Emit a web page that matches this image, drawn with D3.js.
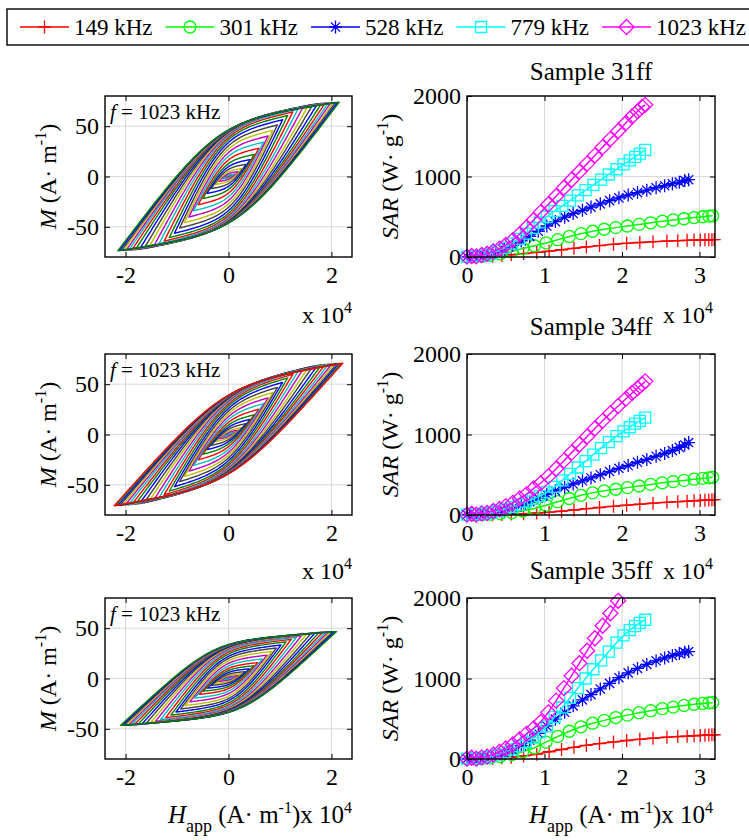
<!DOCTYPE html>
<html><head><meta charset="utf-8">
<script src="https://cdn.jsdelivr.net/npm/d3@7/dist/d3.min.js"></script>
<style>
body{margin:0;background:#fff;}
svg{display:block;font-family:"Liberation Serif","Times New Roman",serif;}
</style></head><body>
<svg id="chart" width="749" height="840" font-family="Liberation Serif, Times New Roman, serif"></svg>
<script>
// ---------------- DATA ----------------
const freqLabels = ['149 kHz','301 kHz','528 kHz','779 kHz','1023 kHz'];
const freqColors = ['#ff0000','#00ff00','#0000ff','#00ffff','#ff00ff'];
const freqMarkers = ['plus','circle','star','square','diamond'];
const sampleNames = ['Sample 31ff','Sample 34ff','Sample 35ff'];

// applied field amplitude (x 10^4 A/m) for each frequency
const H_149  = [0,0.08,0.2,0.33,0.45,0.57,0.73,0.9,1.06,1.22,1.38,1.54,1.71,1.89,2.06,2.23,2.4,2.58,2.72,2.84,2.93,3.01,3.07,3.12,3.16,3.19];
const H_301  = [0,0.1,0.2,0.3,0.43,0.58,0.72,0.87,1.02,1.17,1.32,1.47,1.62,1.77,1.92,2.07,2.22,2.37,2.52,2.66,2.8,2.93,3.04,3.12,3.17];
const H_528  = [0,0.08,0.17,0.27,0.37,0.48,0.59,0.7,0.81,0.92,1.03,1.14,1.26,1.37,1.49,1.6,1.72,1.84,1.96,2.08,2.2,2.32,2.44,2.55,2.65,2.74,2.81,2.86];
const H_779  = [0,0.07,0.15,0.23,0.31,0.4,0.49,0.58,0.67,0.76,0.85,0.94,1.03,1.13,1.23,1.33,1.43,1.53,1.63,1.73,1.83,1.93,2.02,2.1,2.17,2.23,2.3];
const H_1023 = [0,0.06,0.12,0.19,0.26,0.34,0.42,0.5,0.59,0.68,0.77,0.86,0.95,1.05,1.15,1.25,1.35,1.45,1.55,1.65,1.75,1.85,1.95,2.05,2.13,2.2,2.26,2.3];

// SAR (W/g)
const S31_149  = [1,2,5,10,18,28,42,57,72,90,108,125,142,158,170,180,190,198,203,207,210,212,213,214,215,216];
const S31_301  = [2,5,10,20,40,70,105,140,175,215,255,290,320,345,365,385,405,425,445,460,475,490,500,508,512];
const S31_528  = [3,8,15,30,55,95,145,200,255,320,385,440,495,540,580,620,660,700,735,770,800,830,860,885,910,930,950,960];
const S31_779  = [5,10,15,25,45,75,115,165,225,290,360,430,500,570,635,700,765,830,895,960,1025,1090,1150,1200,1245,1285,1330];
const S31_1023 = [5,12,8,25,40,70,105,150,210,285,370,460,555,655,755,860,960,1060,1160,1260,1365,1465,1565,1665,1745,1810,1865,1890];

const S34_149  = [1,1,2,4,7,11,17,25,35,48,62,78,93,108,122,135,147,158,166,172,177,181,184,186,188,190];
const S34_301  = [2,3,5,10,18,30,50,80,120,165,205,245,275,300,320,340,360,380,400,415,430,445,455,462,468];
const S34_528  = [3,6,10,20,35,60,90,125,165,210,255,300,345,385,425,460,500,540,580,615,655,690,730,765,800,840,870,900];
const S34_779  = [5,10,12,20,30,50,75,100,130,165,200,235,280,350,430,510,590,670,750,830,905,980,1040,1090,1135,1170,1210];
const S34_1023 = [5,15,5,20,25,50,75,110,150,205,260,330,395,480,575,675,775,875,975,1075,1170,1265,1355,1445,1515,1575,1625,1660];

const S35_149  = [1,2,4,8,14,22,38,60,90,118,145,170,192,212,230,245,258,270,278,284,289,293,296,298,300,301];
const S35_301  = [2,4,8,15,30,55,90,140,210,280,345,400,445,480,515,545,575,600,625,645,665,680,690,697,700];
const S35_528  = [3,6,10,20,40,70,110,165,235,320,410,495,580,660,735,800,870,940,1010,1070,1125,1175,1220,1255,1285,1310,1325,1335];
const S35_779  = [5,10,10,20,35,55,85,120,160,210,265,330,405,520,640,760,880,1000,1115,1225,1335,1445,1535,1600,1650,1690,1730];
const S35_1023 = [5,15,5,20,30,55,90,130,180,245,315,380,460,580,725,880,1035,1190,1345,1500,1655,1810,1965,2120,2240,2350,2440,2500];

// hysteresis loops at f = 1023 kHz: field amplitude (x 10^4 A/m) and tip magnetization
const loopH31 = [0.06,0.12,0.19,0.26,0.34,0.42,0.5,0.59,0.68,0.77,0.86,0.95,1.05,1.15,1.25,1.35,1.45,1.55,1.64,1.73,1.81,1.88,1.94,1.99,2.04,2.08,2.12,2.15];
const loopM31 = [0.8,2.3,4.8,7.9,12.1,16.8,21.9,28.0,34.1,40.2,45.9,51.2,56.4,60.7,64.2,66.9,69.0,70.5,71.6,72.3,72.8,73.1,73.3,73.4,73.5,73.6,73.7,73.8];
const loopH34 = [0.06,0.12,0.19,0.26,0.34,0.42,0.5,0.59,0.68,0.77,0.86,0.95,1.05,1.15,1.25,1.35,1.45,1.55,1.64,1.73,1.81,1.88,1.95,2.01,2.06,2.11,2.15,2.19,2.22];
const loopM34 = [0.7,2.1,4.3,7.0,10.8,15.0,19.6,25.1,30.7,36.4,41.7,46.8,51.8,56.2,59.8,62.7,65.0,66.7,67.9,68.7,69.3,69.7,70.1,70.2,70.4,70.5,70.6,70.7,70.8];
const loopH35 = [0.06,0.12,0.19,0.26,0.33,0.41,0.49,0.57,0.66,0.75,0.84,0.93,1.02,1.12,1.22,1.32,1.42,1.51,1.6,1.68,1.76,1.83,1.89,1.94,1.99,2.03,2.07,2.1];
const loopM35 = [0.4,1.4,2.8,4.7,6.8,9.6,12.6,15.8,19.5,23.2,26.9,30.3,33.3,36.4,38.9,40.9,42.6,43.7,44.6,45.2,45.7,46.0,46.2,46.3,46.5,46.5,46.6,46.6];

const xTicksLeft = [-2,0,2], yTicksLeft = [-50,0,50];
const xTicksRight = [0,1,2,3], yTicksRight = [0,1000,2000];

// ---------------- BUILD ----------------
const Hs = [H_149,H_301,H_528,H_779,H_1023];
const samples = [
  {name:sampleNames[0], sar:[S31_149,S31_301,S31_528,S31_779,S31_1023], lh:loopH31, lm:loopM31, shape:{rho:0.22,kOut:0.56,kIn:0.6,tOut:0.1,tIn:0.14}, off:2},
  {name:sampleNames[1], sar:[S34_149,S34_301,S34_528,S34_779,S34_1023], lh:loopH34, lm:loopM34, shape:{rho:0.28,kOut:0.53,kIn:0.55,tOut:0.1,tIn:0.16}, off:2},
  {name:sampleNames[2], sar:[S35_149,S35_301,S35_528,S35_779,S35_1023], lh:loopH35, lm:loopM35, shape:{rho:0.18,kOut:0.58,kIn:0.6,tOut:0.08,tIn:0.14}, off:2}
];
const loopColors = ['#0000ff','#008000','#ff0000','#00bfbf','#bf00bf','#bfbf00','#404040'];

const rows = [
  {top:96, bottom:257, titleY:80},
  {top:354, bottom:515, titleY:335},
  {top:598, bottom:759, titleY:579}
];
const L = {x0:105, x1:352}, R = {x0:467, x1:715};
const FS = 24;

const svg = d3.select('#chart');
svg.append('rect').attr('width',749).attr('height',840).attr('fill','#fff');

function markerPath(type){
  switch(type){
    case 'plus': return 'M-6.5,0H6.5M0,-6.5V6.5';
    case 'circle': return 'M6,0A6,6 0 1,1 -6,0A6,6 0 1,1 6,0Z';
    case 'star': return 'M-6.5,0H6.5M0,-6.5V6.5M-4.6,-4.6L4.6,4.6M-4.6,4.6L4.6,-4.6';
    case 'square': return 'M-5.5,-5.5H5.5V5.5H-5.5Z';
    case 'diamond': return 'M0,-7.5L7.5,0L0,7.5L-7.5,0Z';
  }
}

function rich(sel, parts){
  parts.forEach(p=>{
    const t = sel.append('tspan').text(p.t);
    if(p.it) t.attr('font-style','italic');
    if(p.dy) t.attr('dy',p.dy);
    if(p.fs) t.attr('font-size',p.fs);
  });
  return sel;
}

function drawFrame(g, x, y, xt, yt, x0, x1, y0, y1){
  g.append('g').selectAll('line').data(xt).join('line')
    .attr('x1',d=>x(d)).attr('x2',d=>x(d)).attr('y1',y0).attr('y2',y1)
    .attr('stroke','#d8d8d8').attr('stroke-width',1);
  g.append('g').selectAll('line').data(yt).join('line')
    .attr('y1',d=>y(d)).attr('y2',d=>y(d)).attr('x1',x0).attr('x2',x1)
    .attr('stroke','#d8d8d8').attr('stroke-width',1);
}
function drawAxes(g, x, y, xt, yt, x0, x1, y0, y1){
  const ax = g.append('g').attr('transform',`translate(0,${y1})`)
    .call(d3.axisBottom(x).tickValues(xt).tickSizeInner(-5).tickSizeOuter(0).tickPadding(9).tickFormat(d=>String(d)));
  const ax2 = g.append('g').attr('transform',`translate(0,${y0})`)
    .call(d3.axisTop(x).tickValues(xt).tickSizeInner(-5).tickSizeOuter(0).tickFormat(''));
  const ay = g.append('g').attr('transform',`translate(${x0},0)`)
    .call(d3.axisLeft(y).tickValues(yt).tickSizeInner(-5).tickSizeOuter(0).tickPadding(6).tickFormat(d=>String(d)));
  const ay2 = g.append('g').attr('transform',`translate(${x1},0)`)
    .call(d3.axisRight(y).tickValues(yt).tickSizeInner(-5).tickSizeOuter(0).tickFormat(''));
  [ax,ax2,ay,ay2].forEach(a=>{
    a.attr('font-family','Liberation Serif, Times New Roman, serif');
    a.select('.domain').remove();
    a.selectAll('line').attr('stroke','#000').attr('stroke-width',1);
    a.selectAll('text').attr('font-size',FS).attr('fill','#000');
  });
  g.append('rect').attr('x',x0).attr('y',y0).attr('width',x1-x0).attr('height',y1-y0)
    .attr('fill','none').attr('stroke','#000').attr('stroke-width',1.4);
}

const sp = v => v > 30 ? v : Math.log1p(Math.exp(v));
function makeP(rho, knee, tau){
  const Rf = s => tau*sp((s-knee)/tau) - tau*sp(-knee/tau);
  const R1 = Rf(1);
  return s => rho*s + (1-rho)*Rf(s)/R1;
}
function loopPoints(Ha, Mt, Pf){
  const n = 80, pts = [];
  for(let i=0;i<=n;i++){ const s=i/n; pts.push([Ha*(1-2*s), Mt-2*Mt*Pf(s)]); }
  for(let i=1;i<=n;i++){ const s=i/n; pts.push([Ha*(2*s-1), -(Mt-2*Mt*Pf(s))]); }
  return pts;
}

samples.forEach((smp, ri)=>{
  const row = rows[ri];
  // ---------- left: loops ----------
  const xL = d3.scaleLinear().domain([-2.4,2.4]).range([L.x0,L.x1]);
  const yL = d3.scaleLinear().domain([-80,80]).range([row.bottom,row.top]);
  const gl = svg.append('g');
  drawFrame(gl, xL, yL, xTicksLeft, yTicksLeft, L.x0, L.x1, row.top, row.bottom);
  const clipL = 'clipL'+ri;
  svg.append('clipPath').attr('id',clipL).append('rect')
    .attr('x',L.x0).attr('y',row.top).attr('width',L.x1-L.x0).attr('height',row.bottom-row.top);
  const line = d3.line().x(d=>xL(d[0])).y(d=>yL(d[1]));
  const gLoops = gl.append('g').attr('clip-path',`url(#${clipL})`);
  const Hmax = d3.max(smp.lh), sh = smp.shape;
  smp.lh.forEach((Ha,i)=>{
    const a = Ha/Hmax;
    const Pf = makeP(sh.rho, sh.kIn + (sh.kOut-sh.kIn)*a, sh.tIn + (sh.tOut-sh.tIn)*a);
    gLoops.append('path').attr('d', line(loopPoints(Ha, smp.lm[i], Pf))+'Z')
      .attr('fill','none').attr('stroke', loopColors[(i+smp.off)%7]).attr('stroke-width',1.4)
      .attr('stroke-linejoin','round');
  });
  drawAxes(gl, xL, yL, xTicksLeft, yTicksLeft, L.x0, L.x1, row.top, row.bottom);
  rich(gl.append('text').attr('x',L.x0+5).attr('y',row.top+23).attr('font-size',21),
    [{t:'f',it:true},{t:' = 1023 kHz'}]);
  rich(gl.append('text').attr('transform',`translate(56,${(row.top+row.bottom)/2}) rotate(-90)`)
    .attr('text-anchor','middle').attr('font-size',FS),
    [{t:'M',it:true},{t:' (A· m'},{t:'-1',dy:-10,fs:16},{t:')',dy:10}]);

  // ---------- right: SAR ----------
  const xR = d3.scaleLinear().domain([0,3.2]).range([R.x0,R.x1]);
  const yR = d3.scaleLinear().domain([0,2000]).range([row.bottom,row.top]);
  const gr = svg.append('g');
  drawFrame(gr, xR, yR, xTicksRight, yTicksRight, R.x0, R.x1, row.top, row.bottom);
  const clipR = 'clipR'+ri;
  svg.append('clipPath').attr('id',clipR).append('rect')
    .attr('x',R.x0).attr('y',row.top).attr('width',R.x1-R.x0).attr('height',row.bottom-row.top);
  const lineR = d3.line().x(d=>xR(d[0])).y(d=>yR(d[1]));
  smp.sar.forEach((vals, k)=>{
    const pts = Hs[k].map((h,j)=>[h, vals[j]]);
    const gs = gr.append('g');
    gs.append('path').attr('d', lineR(pts)).attr('clip-path',`url(#${clipR})`)
      .attr('fill','none').attr('stroke',freqColors[k]).attr('stroke-width',1.5);
    gs.selectAll('path.m').data(pts.filter(p=>p[0]<=3.2 && p[1]<=2000)).join('path')
      .attr('class','m').attr('transform',p=>`translate(${xR(p[0])},${yR(p[1])})`)
      .attr('d', markerPath(freqMarkers[k])).attr('fill','none')
      .attr('stroke',freqColors[k]).attr('stroke-width',1.3);
  });
  drawAxes(gr, xR, yR, xTicksRight, yTicksRight, R.x0, R.x1, row.top, row.bottom);
  rich(gr.append('text').attr('transform',`translate(398,${(row.top+row.bottom)/2}) rotate(-90)`)
    .attr('text-anchor','middle').attr('font-size',FS),
    [{t:'SAR',it:true},{t:' (W· g'},{t:'-1',dy:-10,fs:16},{t:')',dy:10}]);
  svg.append('text').attr('x',591).attr('y',row.titleY).attr('text-anchor','middle')
    .attr('font-size',25).text(smp.name);

  if(ri < 2){
    const ey = row.bottom + 66 - ri*2;
    [L.x1, R.x1-2].forEach(xe=>{
      rich(svg.append('text').attr('x',xe).attr('y',ey).attr('text-anchor','end').attr('font-size',FS),
        [{t:'x 10'},{t:'4',dy:-10,fs:16}]);
    });
  } else {
    [L.x1, R.x1-2].forEach(xe=>{
      rich(svg.append('text').attr('x',xe).attr('y',823).attr('text-anchor','end').attr('font-size',FS+1),
        [{t:'H',it:true},{t:'app',dy:9,fs:18},{t:' (A· m',dy:-9},{t:'-1',dy:-10,fs:16},{t:')x 10',dy:10},{t:'4',dy:-10,fs:16}]);
    });
  }
});

// ---------------- LEGEND ----------------
const lg = svg.append('g');
lg.append('rect').attr('x',7).attr('y',9).attr('width',760).attr('height',36)
  .attr('fill','#fff').attr('stroke','#000').attr('stroke-width',1.4);
freqLabels.forEach((lab,k)=>{
  const x0 = 20 + k*145.5, cy = 27;
  lg.append('line').attr('x1',x0).attr('x2',x0+49).attr('y1',cy).attr('y2',cy)
    .attr('stroke',freqColors[k]).attr('stroke-width',1.5);
  lg.append('path').attr('transform',`translate(${x0+24.5},${cy})`).attr('d',markerPath(freqMarkers[k]))
    .attr('fill','none').attr('stroke',freqColors[k]).attr('stroke-width',1.3);
  lg.append('text').attr('x',x0+54).attr('y',cy+8).attr('font-size',23).text(lab);
});
</script>
</body></html>
